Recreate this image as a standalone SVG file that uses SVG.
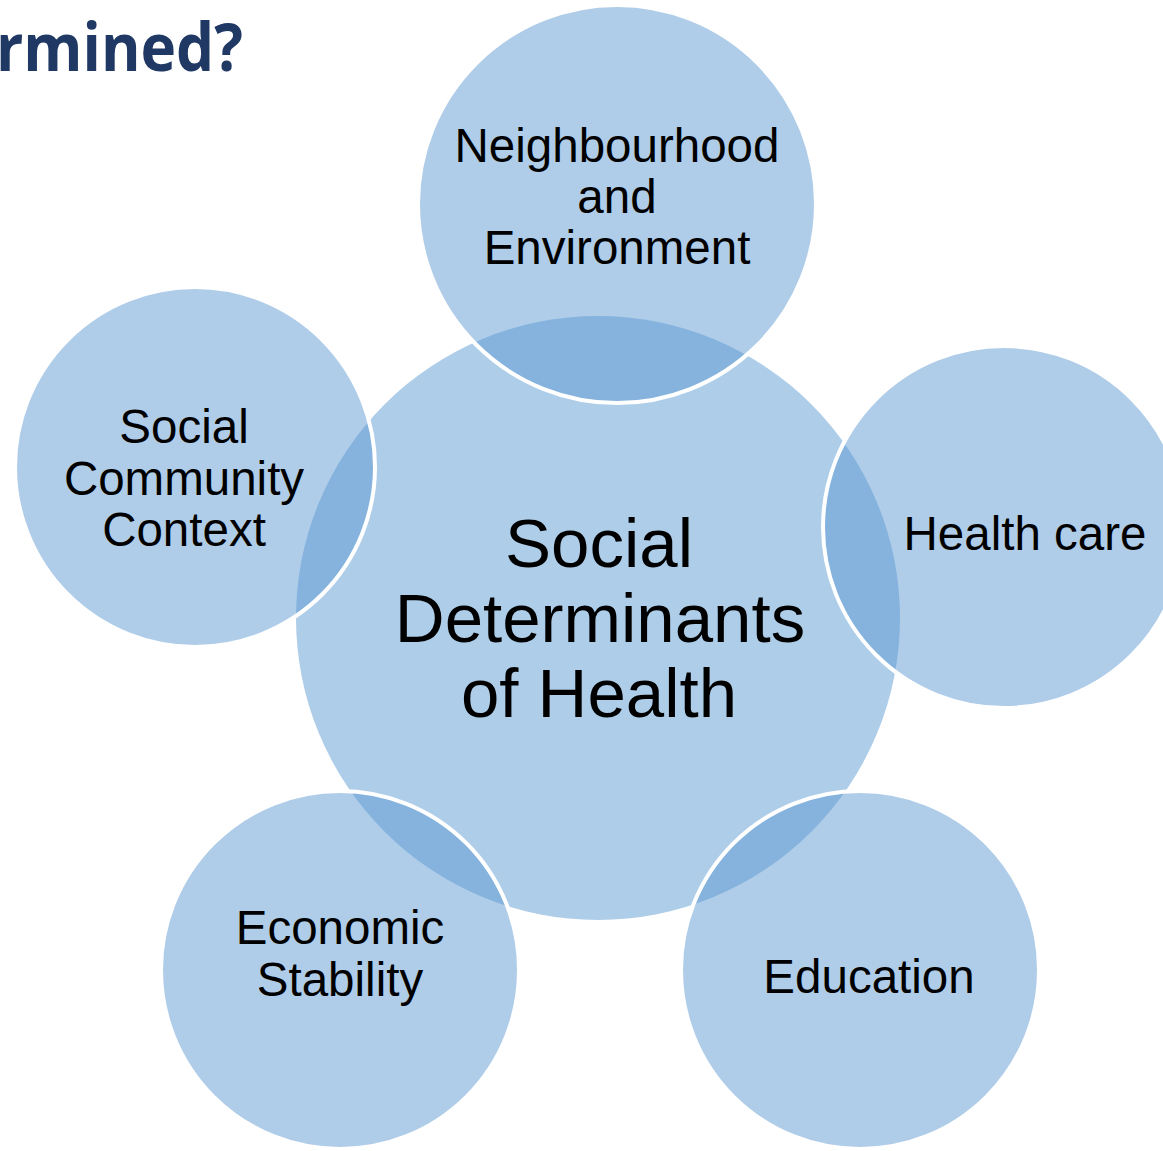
<svg xmlns="http://www.w3.org/2000/svg" width="1163" height="1151" viewBox="0 0 1163 1151">
<style>
.center{fill:#aecde9;stroke:none}
.outer{fill:rgb(87,151,209);fill-opacity:0.48;stroke:#ffffff;stroke-width:4}
.lbl{font-family:"Liberation Sans",Arial,sans-serif;font-size:47.5px;fill:#000000;text-anchor:middle}
.big{font-family:"Liberation Sans",Arial,sans-serif;font-size:69px;fill:#000000;text-anchor:middle}
.title{font-family:"Open Sans",sans-serif;font-weight:bold;font-size:67px;fill:#1f3864}
</style>
<rect width="1163" height="1151" fill="#ffffff"/>
<text class="title" x="-4" y="71" textLength="247" lengthAdjust="spacingAndGlyphs">rmined?</text>
<g id="center-node">
<circle class="center" cx="598" cy="618" r="302"/>
<text class="big" x="599" y="567">Social</text>
<text class="big" x="600" y="642">Determinants</text>
<text class="big" x="599" y="717">of Health</text>
</g>
<g id="node-neighbourhood">
<circle class="outer" cx="617" cy="204" r="199"/>
<text class="lbl" x="617" y="162">Neighbourhood</text>
<text class="lbl" x="617" y="213">and</text>
<text class="lbl" x="617" y="264">Environment</text>
</g>
<g id="node-healthcare">
<circle class="outer" cx="1004" cy="527" r="181"/>
<text class="lbl" x="1025" y="550">Health care</text>
</g>
<g id="node-education">
<circle class="outer" cx="860" cy="970" r="179"/>
<text class="lbl" x="869" y="993">Education</text>
</g>
<g id="node-economic">
<circle class="outer" cx="340" cy="970" r="179"/>
<text class="lbl" x="340" y="944">Economic</text>
<text class="lbl" x="340" y="996">Stability</text>
</g>
<g id="node-social">
<circle class="outer" cx="195" cy="467" r="180"/>
<text class="lbl" x="184" y="443">Social</text>
<text class="lbl" x="184" y="495">Community</text>
<text class="lbl" x="184" y="546">Context</text>
</g>
<g id="connectors"></g>
</svg>
